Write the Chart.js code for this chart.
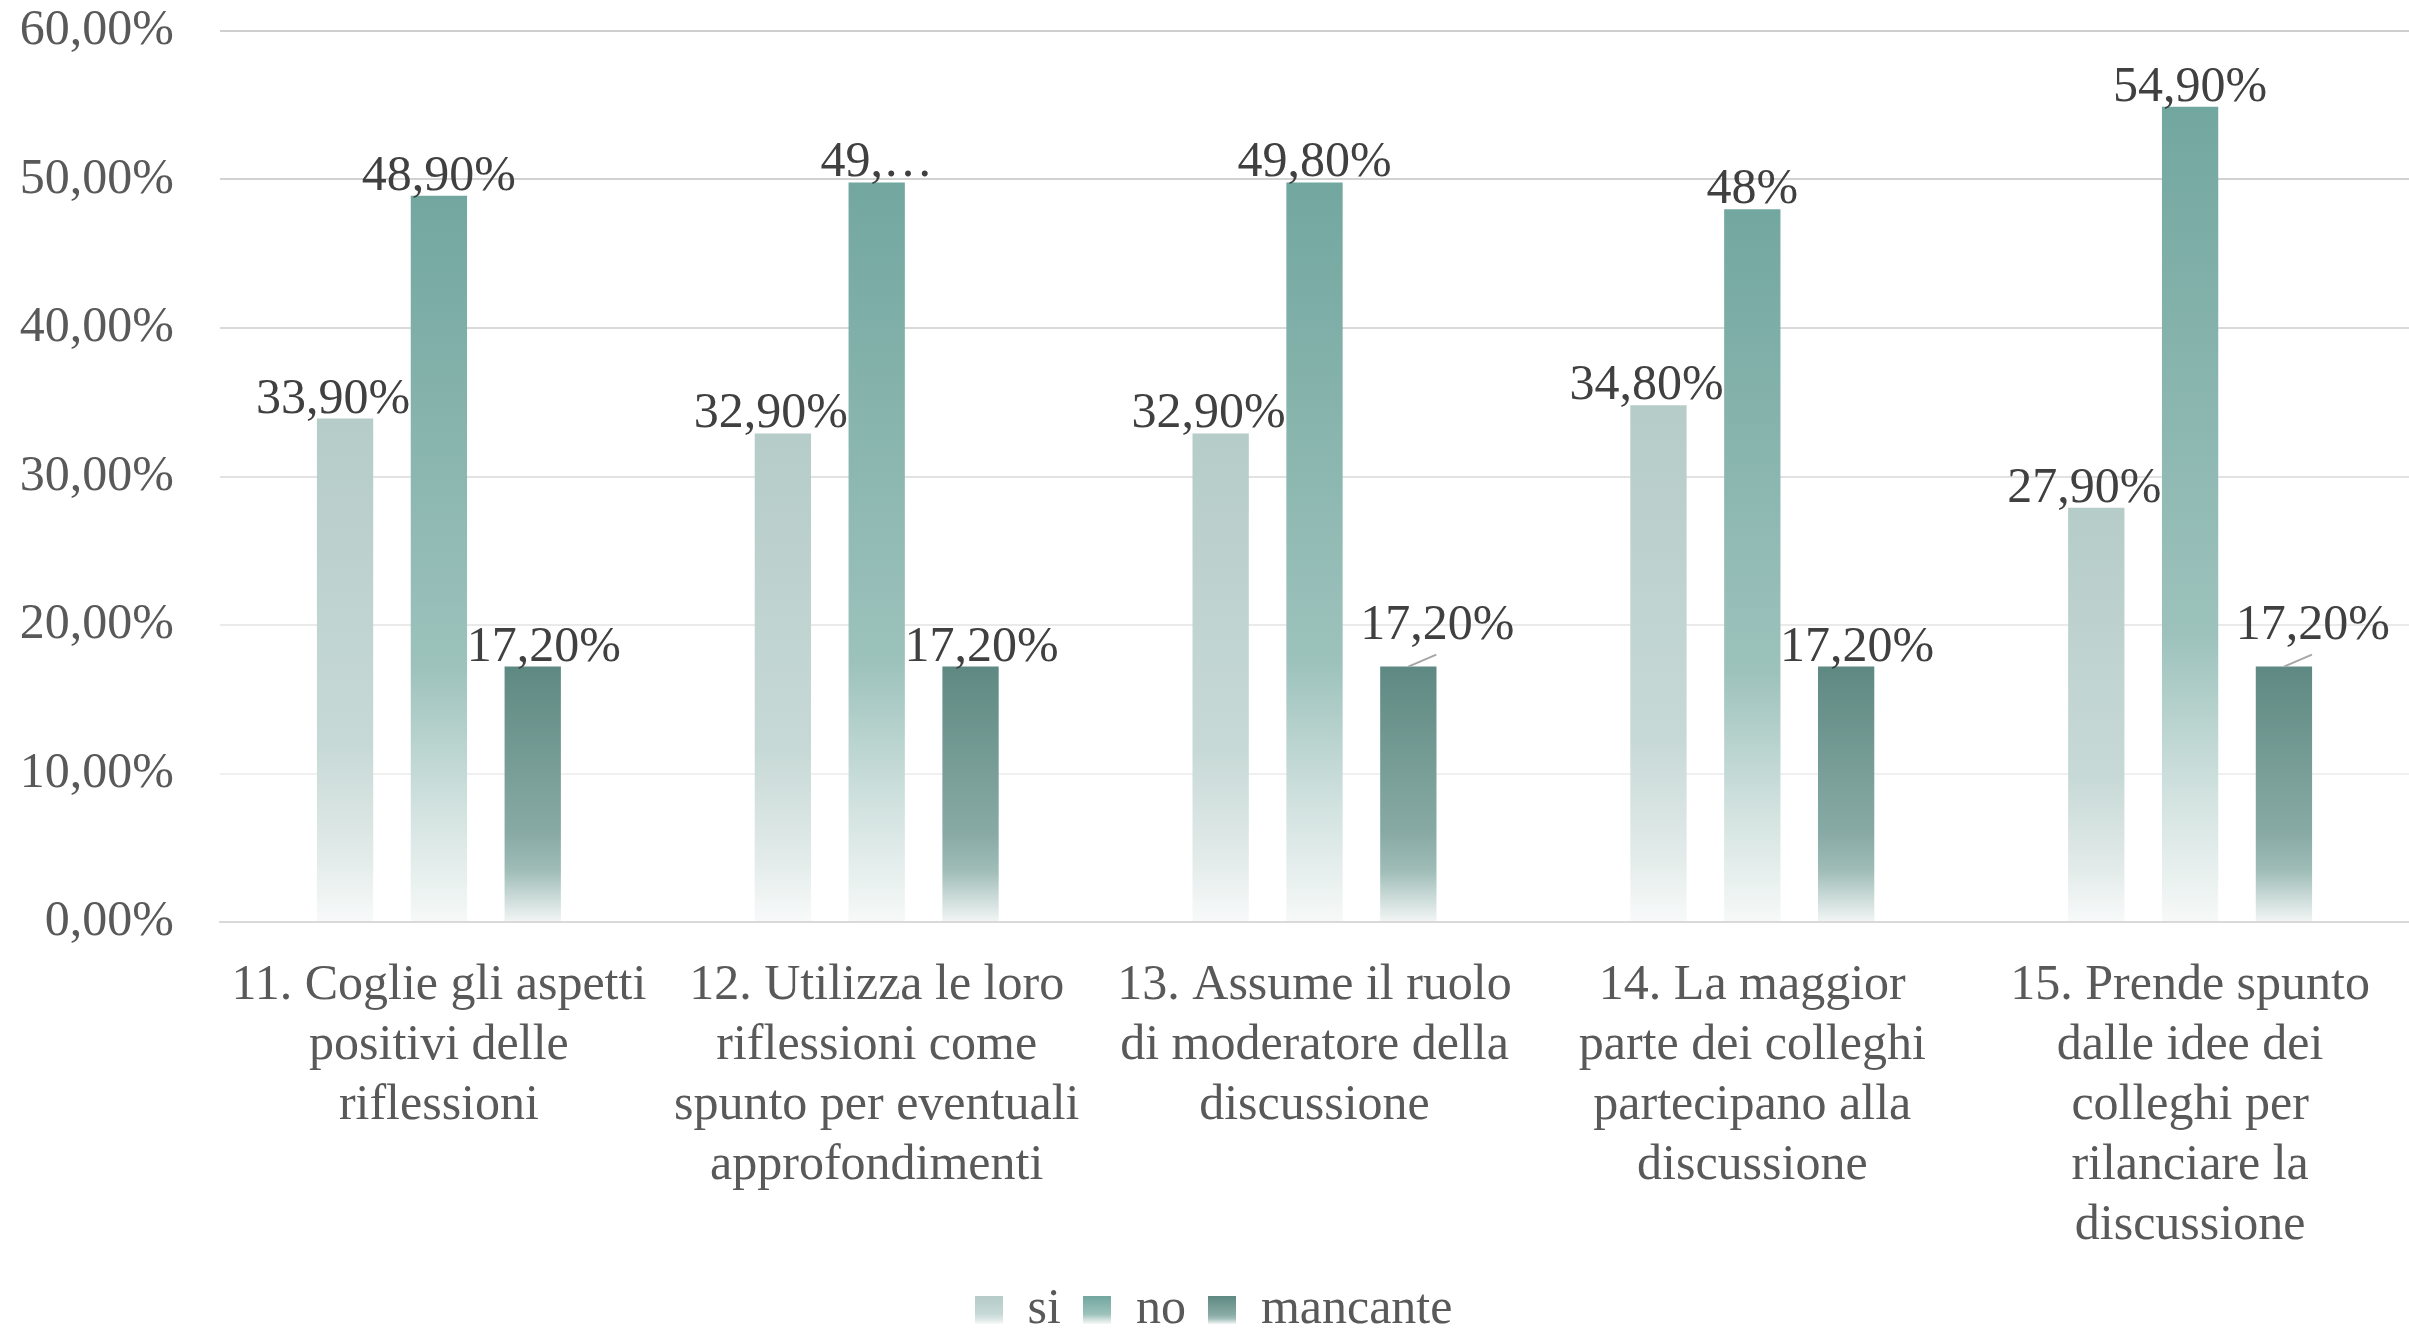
<!DOCTYPE html>
<html lang="it">
<head>
<meta charset="UTF-8">
<title>Grafico domande 11-15</title>
<style>
  html, body { margin: 0; padding: 0; background: #fff; }
  #wrap { width: 2409px; height: 1329px; }
</style>
</head>
<body>
<div id="wrap"><canvas id="myChart"></canvas></div>
<script src="https://cdn.jsdelivr.net/npm/chart.js"></script>
<script>
// dati
const categorie = [
  ['11. Coglie gli aspetti', 'positivi delle', 'riflessioni'],
  ['12. Utilizza le loro', 'riflessioni come', 'spunto per eventuali', 'approfondimenti'],
  ['13. Assume il ruolo', 'di moderatore della', 'discussione'],
  ['14. La maggior', 'parte dei colleghi', 'partecipano alla', 'discussione'],
  ['15. Prende spunto', 'dalle idee dei', 'colleghi per', 'rilanciare la', 'discussione']
];
const valoriSi = [33.9, 32.9, 32.9, 34.8, 27.9];
const valoriNo = [48.9, 49.8, 49.8, 48, 54.9];
const valoriMancante = [17.2, 17.2, 17.2, 17.2, 17.2];
const etichetteSi = ['33,90%', '32,90%', '32,90%', '34,80%', '27,90%'];
const etichetteNo = ['48,90%', '49,…', '49,80%', '48%', '54,90%'];
const etichetteMancante = ['17,20%', '17,20%', '17,20%', '17,20%', '17,20%'];

const FONT = '"Liberation Serif", "DejaVu Serif", serif';

// colori sfumati (alto -> basso)
const coloriSi = [[0, '#b5ccc8'], [0.65, '#c7d9d6'], [0.87, '#e2ebe9'], [1, '#f8fafa']];
const coloriNo = [[0, '#72a79f'], [0.65, '#9dc2bc'], [0.85, '#d3e3e0'], [1, '#f6f9f8']];
const coloriMancante = [[0, '#5e8982'], [0.65, '#88aaa4'], [0.8, '#a0bdb8'], [1, '#f2f6f5']];

function sfumatura(stops) {
  return function(context) {
    const chart = context.chart;
    if (!chart.chartArea || context.type !== 'data') return stops[0][1];
    const y = chart.scales.y;
    const top = y.getPixelForValue(context.raw);
    const base = y.getPixelForValue(0);
    const g = chart.ctx.createLinearGradient(0, top, 0, base);
    stops.forEach(s => g.addColorStop(s[0], s[1]));
    return g;
  };
}

function quadratino(stops) {
  const c = document.createElement('canvas');
  c.width = 28; c.height = 28;
  const cx = c.getContext('2d');
  const g = cx.createLinearGradient(0, 0, 0, 28);
  stops.forEach(s => g.addColorStop(s[0], s[1]));
  cx.fillStyle = g;
  cx.fillRect(0, 0, 28, 28);
  return c;
}

const etichettePlugin = {
  id: 'etichette',
  afterDatasetsDraw(chart) {
    const ctx = chart.ctx;
    ctx.save();
    ctx.font = '50px ' + FONT;
    ctx.fillStyle = '#404040';
    ctx.textAlign = 'center';
    ctx.textBaseline = 'alphabetic';
    chart.data.datasets.forEach((ds, i) => {
      const meta = chart.getDatasetMeta(i);
      meta.data.forEach((bar, j) => {
        const staccata = ds.staccata ? ds.staccata[j] : false;
        let x = bar.x + ds.spostaEtichetta;
        let y = bar.y - 6;
        if (staccata) {
          // etichetta spostata con linea guida
          x += 18;
          y = bar.y - 28;
          ctx.strokeStyle = '#a6a6a6';
          ctx.lineWidth = 2;
          ctx.beginPath();
          ctx.moveTo(bar.x, bar.y);
          ctx.lineTo(bar.x + 28, bar.y - 12);
          ctx.stroke();
        }
        ctx.fillText(ds.etichette[j], x, y);
      });
    });
    ctx.restore();
  }
};

const coloriGriglia = { 60: '#cfcfcf', 50: '#d2d2d2', 40: '#d9d9d9', 30: '#e2e2e2', 20: '#eaeaea', 10: '#f0f0f0', 0: '#d9d9d9' };

const ctx = document.getElementById('myChart').getContext('2d');
new Chart(ctx, {
  type: 'bar',
  data: {
    labels: categorie,
    datasets: [
      {
        label: 'si',
        data: valoriSi,
        etichette: etichetteSi,
        spostaEtichetta: -12,
        backgroundColor: sfumatura(coloriSi),
        pointStyle: quadratino(coloriSi)
      },
      {
        label: 'no',
        data: valoriNo,
        etichette: etichetteNo,
        spostaEtichetta: 0,
        backgroundColor: sfumatura(coloriNo),
        pointStyle: quadratino(coloriNo)
      },
      {
        label: 'mancante',
        data: valoriMancante,
        etichette: etichetteMancante,
        spostaEtichetta: 11,
        staccata: [false, false, true, false, true],
        backgroundColor: sfumatura(coloriMancante),
        pointStyle: quadratino(coloriMancante)
      }
    ]
  },
  options: {
    responsive: true,
    maintainAspectRatio: false,
    animation: false,
    barPercentage: 0.6,
    categoryPercentage: 0.643,
    layout: { padding: { left: 18, right: 0, top: 31, bottom: -16 } },
    plugins: {
      legend: {
        position: 'bottom',
        labels: {
          usePointStyle: true,
          boxWidth: 28,
          boxHeight: 28,
          padding: 22,
          color: '#595959',
          font: { family: FONT, size: 50 }
        }
      },
      tooltip: { enabled: false }
    },
    scales: {
      x: {
        grid: { display: false, drawTicks: false },
        border: { display: true, color: '#d9d9d9', width: 2 },
        afterFit: s => { s.paddingLeft = 0; s.paddingRight = 0; s.height = 341; },
        ticks: {
          color: '#595959',
          padding: 34,
          maxRotation: 0,
          autoSkip: false,
          font: { family: FONT, size: 50, lineHeight: 1.2 }
        }
      },
      y: {
        min: 0,
        max: 60,
        afterFit: s => { s.paddingTop = 0; s.paddingBottom = 0; s.width = 202; },
        grid: {
          drawTicks: false,
          lineWidth: 2,
          color: c => coloriGriglia[c.tick ? c.tick.value : 0] || '#d9d9d9'
        },
        border: { display: false },
        ticks: {
          stepSize: 10,
          padding: 46,
          color: '#595959',
          font: { family: FONT, size: 50 },
          callback: v => v.toFixed(2).replace('.', ',') + '%'
        }
      }
    }
  },
  plugins: [etichettePlugin]
});
</script>
</body>
</html>
